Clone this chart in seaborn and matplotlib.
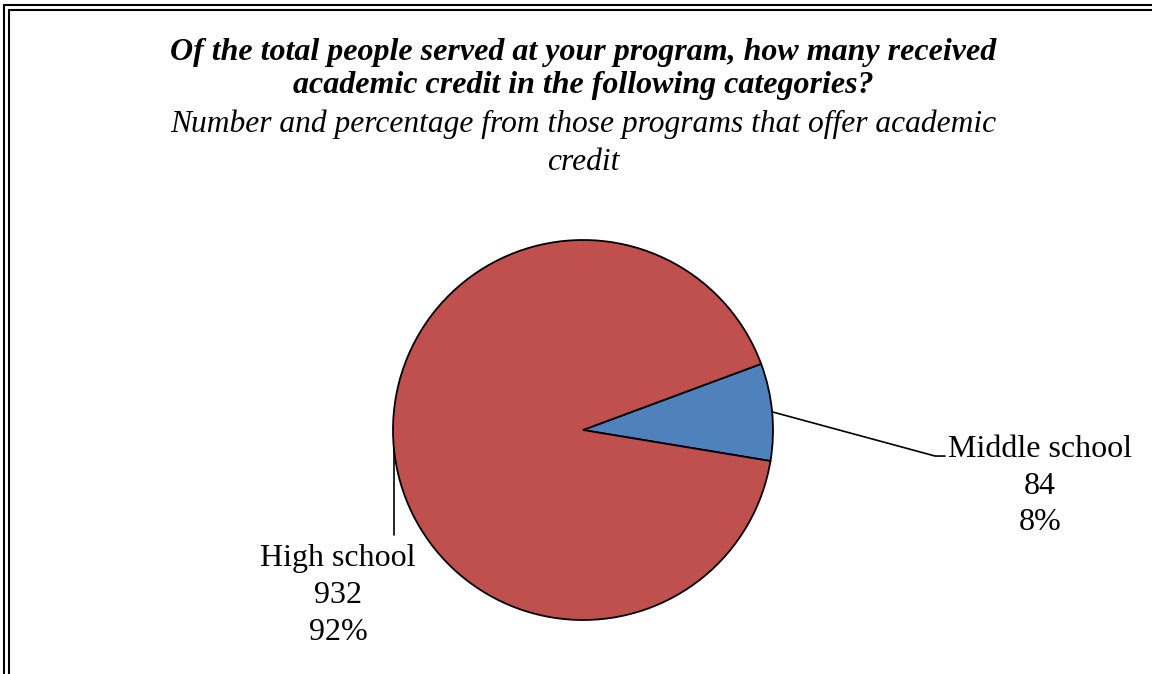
import numpy as np
import matplotlib
matplotlib.use("Agg")
import matplotlib.pyplot as plt
import seaborn as sns
from matplotlib.lines import Line2D

# data
categories = ["Middle school", "High school"]
counts = [84, 932]
colors = ["#4F81BD", "#C0504D"]

title = "Of the total people served at your program, how many received\nacademic credit in the following categories?"
subtitle = "Number and percentage from those programs that offer academic\ncredit"

sns.set_theme(style="white")
plt.rcParams["font.family"] = ["Liberation Serif", "DejaVu Serif"]
plt.rcParams["text.color"] = "black"

W, H = 1152, 674
fig = plt.figure(figsize=(W / 100, H / 100), dpi=100)

# pie centred at (583, 430) px, radius 190 px
cx, cy, r = 583, 430, 190
ax = fig.add_axes([(cx - r) / W, (H - cy - r) / H, 2 * r / W, 2 * r / H])
wedges, _ = ax.pie(counts, colors=colors, startangle=-9.4, counterclock=True,
                   wedgeprops=dict(edgecolor="black", linewidth=1.3))
ax.set_xlim(-1, 1)
ax.set_ylim(-1, 1)
ax.set_aspect("equal")
ax.axis("off")

total = sum(counts)
pcts = [c / total * 100 for c in counts]
labels = [f"{cat}\n{c}\n{p:.0f}%" for cat, c, p in zip(categories, counts, pcts)]

def anchor(w):
    ang = np.deg2rad((w.theta1 + w.theta2) / 2)
    return np.cos(ang), np.sin(ang)

# Middle school label, leader to the right
x0, y0 = anchor(wedges[0])
ax.plot([x0, 1.853, 1.905], [y0, -0.137, -0.137], color="black", lw=1.2, clip_on=False)
ax.text(2.405, -0.295, labels[0], ha="center", va="center", fontsize=23,
        multialignment="center", linespacing=1.36, color="black")

# High school label, leader straight down
x1, y1 = anchor(wedges[1])
ax.plot([x1, x1], [y1, -0.553], color="black", lw=1.2, clip_on=False)
ax.text(-1.29, -0.873, labels[1], ha="center", va="center", fontsize=23,
        multialignment="center", linespacing=1.36, color="black")

# titles
fig.text(583 / W, 1 - 69 / H, title, ha="center", va="center", fontsize=23,
         fontweight="bold", fontstyle="italic", linespacing=1.14)
fig.text(583 / W, 1 - 143 / H, subtitle, ha="center", va="center", fontsize=22.7,
         fontstyle="italic", linespacing=1.4)

# double border (left and top)
for px in (3.5, 9.0):
    fig.add_artist(Line2D([px / W, px / W], [0, 1 - (px + 1) / H],
                          transform=fig.transFigure, color="black", lw=1.5))
    fig.add_artist(Line2D([px / W, 1], [1 - (px + 1) / H, 1 - (px + 1) / H],
                          transform=fig.transFigure, color="black", lw=1.5))

fig.savefig("out.png", dpi=100, facecolor="white")
